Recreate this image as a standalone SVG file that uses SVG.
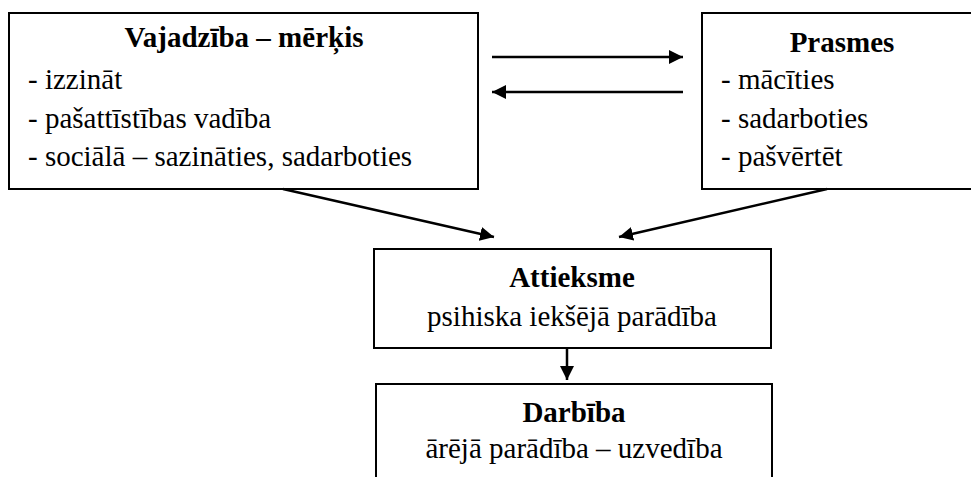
<svg xmlns="http://www.w3.org/2000/svg" width="971" height="477" viewBox="0 0 971 477">
  <style>
    .box { fill: #ffffff; stroke: #000000; stroke-width: 2; }
    text { font-family: "Liberation Serif", "Times New Roman", serif; font-size: 29px; fill: #000000; }
    .h { font-weight: bold; text-anchor: middle; }
    .c { text-anchor: middle; }
    .line { stroke: #000000; stroke-width: 2.5; fill: none; }
  </style>
  <defs>
    <marker id="arrow" viewBox="0 0 14 14" refX="14" refY="7" markerWidth="14" markerHeight="14" markerUnits="userSpaceOnUse" orient="auto">
      <path d="M0,0 L14,7 L0,14 Z" fill="#000000"/>
    </marker>
  </defs>

  <!-- needs / goal -->
  <g id="node-vajadziba">
    <rect class="box" x="9" y="13" width="469" height="176"/>
    <text class="h" x="244" y="47">Vajadzība – mērķis</text>
    <text x="28" y="89">- izzināt</text>
    <text x="28" y="128">- pašattīstības vadība</text>
    <text x="28" y="166">- sociālā – sazināties, sadarboties</text>
  </g>

  <!-- skills; box runs past the right edge -->
  <g id="node-prasmes">
    <rect class="box" x="702" y="13" width="280" height="176"/>
    <text class="h" x="842" y="52">Prasmes</text>
    <text x="721" y="89">- mācīties</text>
    <text x="721" y="128">- sadarboties</text>
    <text x="721" y="166">- pašvērtēt</text>
  </g>

  <g id="node-attieksme">
    <rect class="box" x="374" y="249" width="397" height="99"/>
    <text class="h" x="572" y="287">Attieksme</text>
    <text class="c" x="572" y="326">psihiska iekšējā parādība</text>
  </g>

  <!-- action; box runs past the bottom edge -->
  <g id="node-darbiba">
    <rect class="box" x="376" y="384" width="396" height="110"/>
    <text class="h" x="574" y="422">Darbība</text>
    <text class="c" x="574" y="458">ārējā parādība – uzvedība</text>
  </g>

  <g id="connectors">
    <line class="line" x1="492" y1="57" x2="683" y2="57" marker-end="url(#arrow)"/>
    <line class="line" x1="683" y1="92" x2="492" y2="92" marker-end="url(#arrow)"/>
    <line class="line" x1="283" y1="189" x2="494" y2="237" marker-end="url(#arrow)"/>
    <line class="line" x1="827" y1="189" x2="619" y2="237" marker-end="url(#arrow)"/>
    <line class="line" x1="567" y1="348" x2="567" y2="380" marker-end="url(#arrow)"/>
  </g>
</svg>
